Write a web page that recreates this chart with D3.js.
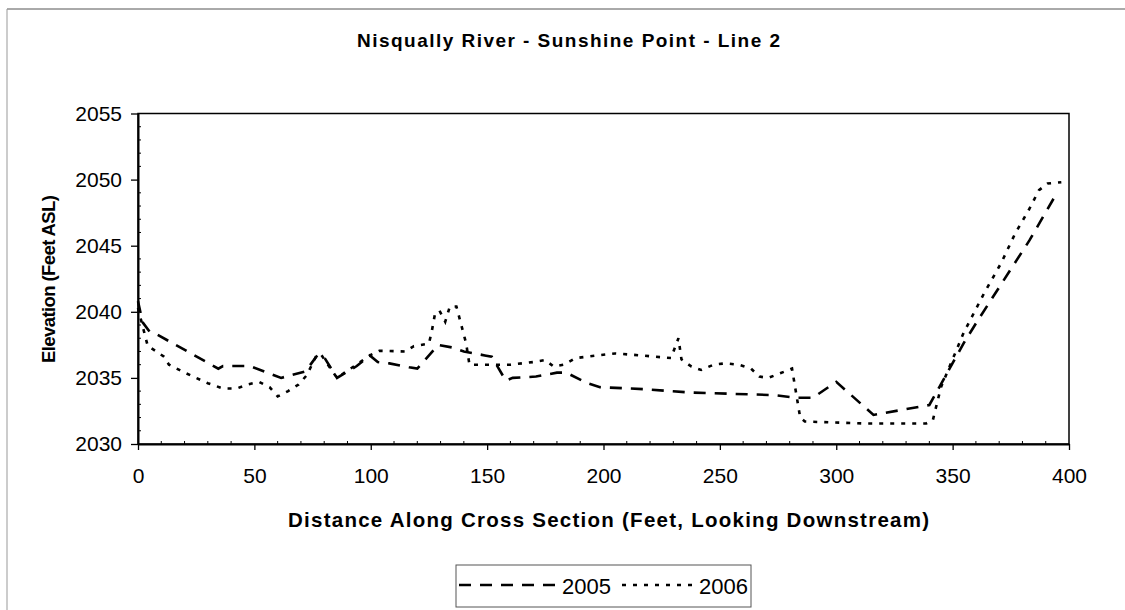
<!DOCTYPE html>
<html>
<head>
<meta charset="utf-8">
<script src="https://cdn.jsdelivr.net/npm/d3@7"></script>
<style>
  body { margin: 0; background: #fff; }
  svg { display: block; font-family: Arial, "Liberation Sans", sans-serif; }
</style>
</head>
<body>
<div class="chart"></div>
<script>
// 圖表文字
const titleText = "Nisqually River - Sunshine Point - Line 2";
const xTitleText = "Distance Along Cross Section (Feet, Looking Downstream)";
const yTitleText = "Elevation (Feet ASL)";
const seriesNames = ["2005", "2006"];
const xTicks = [0, 50, 100, 150, 200, 250, 300, 350, 400];
const yTicks = [2030, 2035, 2040, 2045, 2050, 2055];

// 2005 斷面
const dist2005 = [0, 2, 5, 8, 34.5, 36.5, 48, 61.5, 72, 77, 79.5, 85.5, 94, 99.6, 103, 108, 116.5, 120,
  124, 129, 135, 140, 149, 152, 158, 161, 171, 180, 184, 193, 198.5, 217, 236.5, 254.5, 273, 283, 290,
  300, 316, 340, 355, 361, 383, 394.5];
const elev2005 = [2040.8, 2039.2, 2038.5, 2038.3, 2035.7, 2035.9, 2035.9, 2035.0, 2035.5, 2036.7, 2036.7,
  2035.0, 2035.9, 2036.7, 2036.2, 2036.1, 2035.8, 2035.7, 2036.5, 2037.5, 2037.3, 2037.0, 2036.7, 2036.6,
  2034.8, 2035.0, 2035.1, 2035.4, 2035.4, 2034.6, 2034.3, 2034.15, 2033.9, 2033.8, 2033.7, 2033.5, 2033.5,
  2034.7, 2032.2, 2032.95, 2037.7, 2039.4, 2045.4, 2048.9];

// 2006 斷面
const dist2006 = [0, 2, 4.2, 7, 11.2, 13.3, 20, 30, 36.5, 42.5, 47, 52, 56.5, 60, 64.5, 69, 72.5, 76.7,
  78.5, 85.5, 99.6, 103.7, 115, 118.5, 125, 126.2, 127.5, 129.5, 132, 134, 136.8, 141, 142.4, 148.6, 160,
  170, 175, 178.6, 183, 188, 197.4, 205, 216, 229, 232.2, 233.5, 237.8, 242, 247.3, 252.3, 258, 263.4,
  267, 270.8, 275.9, 281, 284.5, 286.5, 312.3, 338.6, 341.5, 345, 354.7, 359.1, 363.5, 370.9, 376.8,
  382.7, 387.1, 390.8, 396.7];
const elev2006 = [2040.3, 2038.9, 2037.4, 2037.1, 2036.6, 2036.0, 2035.4, 2034.6, 2034.2, 2034.2, 2034.5,
  2034.7, 2034.3, 2033.6, 2034.0, 2034.5, 2035.2, 2036.7, 2036.8, 2035.0, 2036.7, 2037.05, 2037.0, 2037.4,
  2037.6, 2038.5, 2039.75, 2040.1, 2039.25, 2040.4, 2040.4, 2037.6, 2036.0, 2036.0, 2036.0, 2036.2,
  2036.35, 2035.85, 2036.0, 2036.5, 2036.7, 2036.85, 2036.7, 2036.5, 2038.0, 2036.4, 2035.85, 2035.6,
  2036.0, 2036.1, 2036.0, 2035.7, 2035.1, 2035.0, 2035.35, 2035.7, 2032.0, 2031.7, 2031.55, 2031.55,
  2031.8, 2034.3, 2038.4, 2039.9, 2041.4, 2043.7, 2045.9, 2047.7, 2049.2, 2049.7, 2049.8];

let canvas = {
  svg: {},
  x: null,
  y: null,
  config: {
    svgW: 1125,
    svgH: 610,
    left: 138,
    right: 1069,
    top: 113.5,
    bottom: 444,
    dash2005: "12,9",
    dash2006: "4,7"
  },
  init: function () {
    let c = this.config;
    this.svg = d3.select('.chart').append('svg')
      .attr('width', c.svgW)
      .attr('height', c.svgH);
    this.x = d3.scaleLinear().domain([0, 400]).range([c.left, c.right]);
    this.y = d3.scaleLinear().domain([2030, 2055]).range([c.bottom, c.top]);
    this.frame();
    this.axes();
    this.lines();
    this.texts();
    this.legend();
  },
  frame: function () {
    let c = this.config;
    // 外框 (掃描的灰邊)
    this.svg.append('line')
      .attr('x1', 7).attr('y1', 9).attr('x2', 1125).attr('y2', 9)
      .attr('stroke', '#555').attr('stroke-width', 1);
    this.svg.append('line')
      .attr('x1', 7).attr('y1', 9).attr('x2', 7).attr('y2', 610)
      .attr('stroke', '#999').attr('stroke-width', 1);
    // 繪圖區
    this.svg.append('rect')
      .attr('x', c.left).attr('y', c.top)
      .attr('width', c.right - c.left).attr('height', c.bottom - c.top)
      .attr('fill', 'none').attr('stroke', '#000').attr('stroke-width', 1.5);
  },
  axes: function () {
    let c = this.config;
    let x = this.x, y = this.y;

    let gx = this.svg.append('g')
      .attr('transform', `translate(0,${c.bottom})`)
      .call(d3.axisBottom(x).tickValues(xTicks).tickFormat(d3.format('d'))
        .tickSize(6).tickPadding(18).tickSizeOuter(0));
    let gy = this.svg.append('g')
      .attr('transform', `translate(${c.left},0)`)
      .call(d3.axisLeft(y).tickValues(yTicks).tickFormat(d3.format('d'))
        .tickSize(7).tickPadding(9).tickSizeOuter(0));

    [gx, gy].forEach(function (g) {
      g.select('.domain').attr('stroke', '#000').attr('stroke-width', 2);
      g.selectAll('.tick line').attr('stroke', '#000').attr('stroke-width', 1.3);
      g.selectAll('.tick text')
        .attr('fill', '#000')
        .style('font-size', '21px')
        .style('font-family', 'Arial, "Liberation Sans", sans-serif');
    });

    // 小刻度 (向內)
    let xMinor = d3.range(10, 400, 10).filter(function (d) { return d % 50 !== 0; });
    this.svg.append('g').selectAll('line')
      .data(xMinor).enter().append('line')
      .attr('x1', function (d) { return x(d); }).attr('x2', function (d) { return x(d); })
      .attr('y1', c.bottom).attr('y2', c.bottom - 3)
      .attr('stroke', '#000').attr('stroke-width', 1);
    let yMinor = d3.range(2031, 2055, 1).filter(function (d) { return d % 5 !== 0; });
    this.svg.append('g').selectAll('line')
      .data(yMinor).enter().append('line')
      .attr('x1', c.left).attr('x2', c.left + 3)
      .attr('y1', function (d) { return y(d); }).attr('y2', function (d) { return y(d); })
      .attr('stroke', '#000').attr('stroke-width', 1);
  },
  lines: function () {
    let x = this.x, y = this.y;
    let line = d3.line()
      .x(function (d) { return x(d[0]); })
      .y(function (d) { return y(d[1]); });
    let s2005 = d3.zip(dist2005, elev2005);
    let s2006 = d3.zip(dist2006, elev2006);

    this.svg.append('path')
      .datum(s2006)
      .attr('d', line)
      .attr('fill', 'none').attr('stroke', '#000')
      .attr('stroke-width', 2.6)
      .attr('stroke-dasharray', this.config.dash2006);
    this.svg.append('path')
      .datum(s2005)
      .attr('d', line)
      .attr('fill', 'none').attr('stroke', '#000')
      .attr('stroke-width', 2.6)
      .attr('stroke-dasharray', this.config.dash2005);
  },
  texts: function () {
    // 標題
    this.svg.append('text')
      .attr('x', 568.5).attr('y', 47)
      .attr('text-anchor', 'middle')
      .attr('textLength', 423).attr('lengthAdjust', 'spacing')
      .style('font-size', '19px').style('font-weight', 'bold')
      .text(titleText);
    // X 軸標題
    this.svg.append('text')
      .attr('x', 608.5).attr('y', 527)
      .attr('text-anchor', 'middle')
      .attr('textLength', 641).attr('lengthAdjust', 'spacing')
      .style('font-size', '20.5px').style('font-weight', 'bold')
      .text(xTitleText);
    // Y 軸標題
    this.svg.append('text')
      .attr('transform', 'translate(55,279) rotate(-90)')
      .attr('text-anchor', 'middle')
      .attr('textLength', 168).attr('lengthAdjust', 'spacing')
      .style('font-size', '18.5px').style('font-weight', 'bold')
      .text(yTitleText);
  },
  legend: function () {
    let g = this.svg.append('g').attr('class', 'legend');
    g.append('rect')
      .attr('x', 456).attr('y', 565).attr('width', 295).attr('height', 42)
      .attr('fill', '#fff').attr('stroke', '#555').attr('stroke-width', 1);
    let items = [
      { name: seriesNames[0], dash: this.config.dash2005, x1: 459, x2: 560, tx: 562 },
      { name: seriesNames[1], dash: this.config.dash2006, x1: 622, x2: 694, tx: 699 }
    ];
    let item = g.selectAll('g.item').data(items).enter().append('g').attr('class', 'item');
    item.append('line')
      .attr('x1', function (d) { return d.x1; }).attr('x2', function (d) { return d.x2; })
      .attr('y1', 585).attr('y2', 585)
      .attr('stroke', '#000').attr('stroke-width', 2.6)
      .attr('stroke-dasharray', function (d) { return d.dash; });
    item.append('text')
      .attr('x', function (d) { return d.tx; }).attr('y', 594)
      .style('font-size', '22px')
      .text(function (d) { return d.name; });
  }
};

canvas.init();
</script>
</body>
</html>
